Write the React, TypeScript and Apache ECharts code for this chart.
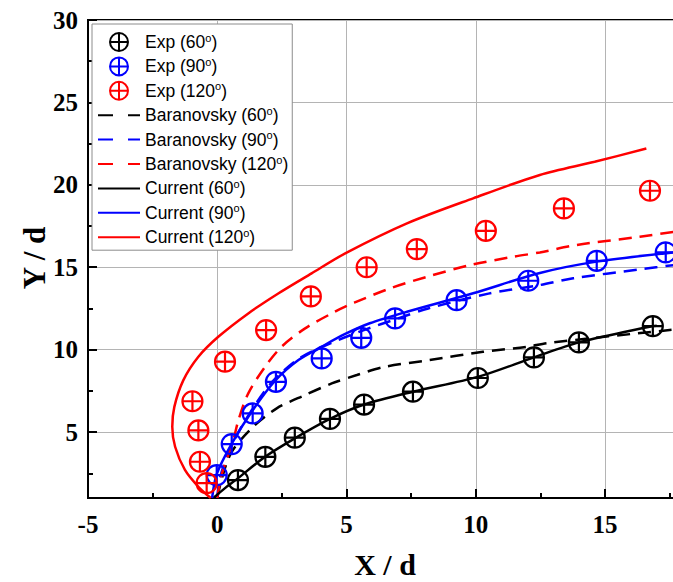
import React, { useEffect, useRef } from "react";
import * as echarts from "echarts";

const xTicks = [-5, 0, 5, 10, 15, 20];

const exp60: number[][] = [[0.8, 2.09], [1.86, 3.5], [3.0, 4.66], [4.36, 5.8], [5.68, 6.67], [7.57, 7.45], [10.08, 8.28], [12.25, 9.53], [13.99, 10.44], [16.85, 11.43]];
const exp90: number[][] = [[-0.02, 2.39], [0.56, 4.27], [1.37, 6.13], [2.27, 8.05], [4.04, 9.47], [5.57, 10.72], [6.88, 11.9], [9.26, 13.0], [12.03, 14.18], [14.68, 15.39], [17.35, 15.9]];
const exp120: number[][] = [[-0.41, 1.9], [-0.67, 3.2], [-0.73, 5.1], [-0.96, 6.87], [0.3, 9.27], [1.89, 11.19], [3.62, 13.23], [5.78, 15.0], [7.72, 16.1], [10.39, 17.21], [13.41, 18.57], [16.74, 19.64]];

const bar60: number[][] = [[0, 1.0], [0.2, 2.3], [0.56, 3.8], [1.39, 5.32], [2.3, 6.44], [3.4, 7.25], [4.43, 7.95], [5.4, 8.46], [6.41, 8.94], [8.22, 9.37], [10.28, 9.87], [11.98, 10.17], [12.76, 10.4], [17.5, 11.19], [17.8, 11.23]];
const bar90: number[][] = [[0, 1.0], [0.1, 2.2], [0.5, 4.0], [1.2, 6.0], [2.1, 8.0], [3.2, 9.5], [4.4, 10.4], [5.7, 11.2], [7.0, 11.9], [8.16, 12.5], [10.49, 13.4], [12.48, 13.92], [13.77, 14.33], [16.35, 14.87], [17.8, 15.16]];
const bar120: number[][] = [[0, 1.0], [0.15, 2.3], [0.4, 3.5], [0.62, 4.5], [0.82, 5.73], [1.2, 7.35], [1.85, 8.96], [2.49, 10.18], [3.4, 11.29], [4.55, 12.3], [5.3, 12.85], [6.69, 13.72], [8.11, 14.42], [9.78, 15.13], [11.46, 15.64], [12.48, 15.9], [13.9, 16.35], [16.35, 16.85], [17.8, 17.18]];

const cur60: number[][] = [[-0.15, 1.0], [0.3, 1.6], [0.75, 2.13], [1.85, 3.5], [3.0, 4.62], [4.36, 5.8], [5.68, 6.67], [7.57, 7.45], [10.08, 8.35], [12.25, 9.53], [13.99, 10.44], [16.85, 11.43], [17.0, 11.45]];
const cur90: number[][] = [[-0.2, 1.0], [-0.02, 2.45], [0.56, 4.3], [1.33, 6.23], [2.23, 8.1], [3.14, 9.37], [4.04, 10.18], [4.95, 10.95], [5.9, 11.6], [7.34, 12.3], [9.9, 13.42], [12.48, 14.65], [14.68, 15.34], [17.8, 15.92]];
const cur120: number[][] = [[-0.25, 1.0], [-0.73, 1.68], [-1.25, 2.7], [-1.63, 4.11], [-1.74, 5.32], [-1.66, 6.53], [-1.31, 8.15], [-0.73, 9.57], [0.04, 10.78], [1.2, 12.2], [2.36, 13.41], [3.65, 14.63], [4.95, 15.84], [7.34, 17.66], [9.9, 19.18], [12.48, 20.6], [14.6, 21.4], [16.6, 22.2]];

const names = [
  "Exp (60°)", "Exp (90°)", "Exp (120°)",
  "Baranovsky (60°)", "Baranovsky (90°)", "Baranovsky (120°)",
  "Current (60°)", "Current (90°)", "Current (120°)",
];

const BLACK = "#000000";
const BLUE = "#0000ff";
const RED = "#ff0000";

const MARKER = "path://M10,0 A10,10 0 1,1 10,20 A10,10 0 1,1 10,0 Z M0,10 L20,10 M10,0 L10,20";
const SERIF = "'Liberation Serif', 'Times New Roman', serif";
const SANS = "'Liberation Sans', Arial, sans-serif";

const CHART_W = 760;

function scatter(name: string, data: number[][], color: string) {
  return {
    name,
    type: "scatter",
    data,
    symbol: MARKER,
    symbolSize: 20,
    symbolKeepAspect: true,
    z: 5,
    itemStyle: { color: "rgba(255,255,255,0)", borderColor: color, borderWidth: 2.2, opacity: 1 },
  };
}

function line(name: string, data: number[][], color: string, dashed: boolean) {
  return {
    name,
    type: "line",
    data,
    symbol: "none",
    showSymbol: false,
    smooth: 0.3,
    z: 3,
    lineStyle: { color, width: 2.5, type: dashed ? [13, 8] : "solid" },
    itemStyle: { color },
  };
}

export default function App() {
  const ref = useRef<HTMLDivElement>(null);
  useEffect(() => {
    if (!ref.current) return;
    const chart = echarts.init(ref.current, null, { renderer: "svg" });
    const option: any = {
      animation: false,
      backgroundColor: "#ffffff",
      grid: { left: 88, top: 20, bottom: 84, right: CHART_W - 734.25, show: true, borderColor: "#000", borderWidth: 2, containLabel: false },
      xAxis: {
        type: "value",
        min: xTicks[0],
        max: xTicks[xTicks.length - 1],
        interval: 5,
        axisLine: { onZero: false, lineStyle: { color: "#000", width: 2 } },
        axisTick: { inside: true, length: 9, lineStyle: { color: "#000", width: 2 } },
        minorTick: { show: true, splitNumber: 2, length: 5, lineStyle: { color: "#000", width: 2 } },
        axisLabel: { fontFamily: SERIF, fontWeight: "bold", fontSize: 25, color: "#000", margin: 14, showMaxLabel: false },
        splitLine: { show: true, lineStyle: { color: "#b4b4b4", width: 1 } },
      },
      yAxis: {
        type: "value",
        min: 1,
        max: 30,
        splitNumber: 5,
        axisLine: { onZero: false, lineStyle: { color: "#000", width: 2 } },
        axisTick: { inside: true, length: 9, lineStyle: { color: "#000", width: 2 } },
        minorTick: { show: true, splitNumber: 2, length: 5, lineStyle: { color: "#000", width: 2 } },
        axisLabel: { fontFamily: SERIF, fontWeight: "bold", fontSize: 25, color: "#000", margin: 10, showMinLabel: false },
        splitLine: { show: true, lineStyle: { color: "#b4b4b4", width: 1 } },
      },
      legend: {
        orient: "vertical",
        left: 92,
        top: 24,
        padding: [8, 4, 3, 5],
        itemWidth: 42,
        itemHeight: 18,
        itemGap: 4.4,
        backgroundColor: "#ffffff",
        borderColor: "#8c8c8c",
        borderWidth: 1,
        data: names.map((n, i) =>
          i < 3
            ? { name: n }
            : i < 6
            ? { name: n, itemStyle: { opacity: 0 }, lineStyle: { type: [15, 15] } }
            : { name: n, itemStyle: { opacity: 0 } }
        ),
        formatter: (n: string) => n.replace("°", "{sup|o}"),
        textStyle: {
          fontFamily: SANS,
          fontSize: 17.5,
          color: "#000",
          lineHeight: 20,
          rich: { sup: { fontFamily: SANS, fontSize: 11, color: "#000", padding: [0, 0, 9, 0] } },
        },
      },
      graphic: [
        { type: "text", x: 385, y: 564, style: { text: "X / d", fontFamily: SERIF, fontWeight: "bold", fontSize: 30, fill: "#000", align: "center", verticalAlign: "middle" } },
        { type: "text", x: 34, y: 258, rotation: Math.PI / 2, style: { text: "Y / d", fontFamily: SERIF, fontWeight: "bold", fontSize: 31, fill: "#000", align: "center", verticalAlign: "middle" } },
      ],
      series: [
        line(names[3], bar60, BLACK, true),
        line(names[4], bar90, BLUE, true),
        line(names[5], bar120, RED, true),
        line(names[6], cur60, BLACK, false),
        line(names[7], cur90, BLUE, false),
        line(names[8], cur120, RED, false),
        scatter(names[0], exp60, BLACK),
        scatter(names[1], exp90, BLUE),
        scatter(names[2], exp120, RED),
      ],
    };
    chart.setOption(option);
    return () => chart.dispose();
  }, []);
  return (
    <div style={{ position: "absolute", left: 0, top: 0, width: 673, height: 582, overflow: "hidden", background: "#fff" }}>
      <div ref={ref} style={{ width: CHART_W, height: 582 }} />
    </div>
  );
}
